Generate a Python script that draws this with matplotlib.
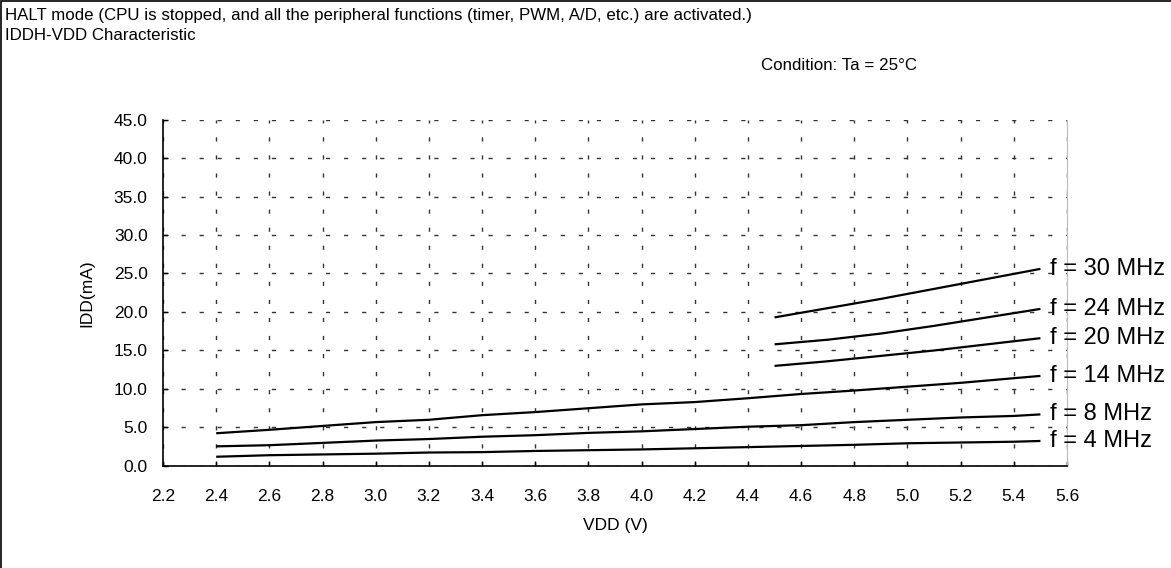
import matplotlib.pyplot as plt
from matplotlib.patches import Rectangle

plt.rcParams['font.family'] = ['Liberation Sans', 'DejaVu Sans']

vdd_low = [2.4, 2.6, 2.8, 3.0, 3.2, 3.4, 3.6, 3.8, 4.0, 4.2, 4.4, 4.6, 4.8, 5.0, 5.2, 5.4, 5.5]
idd_4 = [1.2, 1.4, 1.5, 1.6, 1.75, 1.8, 1.95, 2.05, 2.15, 2.3, 2.45, 2.6, 2.75, 2.95, 3.05, 3.15, 3.25]
idd_8 = [2.55, 2.7, 3.0, 3.3, 3.5, 3.8, 4.0, 4.3, 4.5, 4.8, 5.1, 5.3, 5.7, 6.0, 6.3, 6.5, 6.7]
idd_14 = [4.25, 4.7, 5.2, 5.7, 6.0, 6.6, 7.0, 7.5, 8.0, 8.3, 8.8, 9.35, 9.8, 10.3, 10.8, 11.4, 11.7]

vdd_high = [4.5, 4.7, 4.9, 5.1, 5.3, 5.5]
idd_20 = [13.0, 13.6, 14.3, 15.0, 15.8, 16.6]
idd_24 = [15.8, 16.4, 17.2, 18.2, 19.3, 20.4]
idd_30 = [19.3, 20.5, 21.7, 23.0, 24.3, 25.6]

series = [
    (vdd_high, idd_30, "f = 30 MHz"),
    (vdd_high, idd_24, "f = 24 MHz"),
    (vdd_high, idd_20, "f = 20 MHz"),
    (vdd_low, idd_14, "f = 14 MHz"),
    (vdd_low, idd_8, "f = 8 MHz"),
    (vdd_low, idd_4, "f = 4 MHz"),
]

xticks = [2.2, 2.4, 2.6, 2.8, 3.0, 3.2, 3.4, 3.6, 3.8, 4.0, 4.2, 4.4, 4.6, 4.8, 5.0, 5.2, 5.4, 5.6]
yticks = [0, 5, 10, 15, 20, 25, 30, 35, 40, 45]

fig = plt.figure(figsize=(11.71, 5.68), dpi=100)
ax = fig.add_axes([0.1392, 0.1796, 0.7720, 0.6100])

for x, y, name in series:
    ax.plot(x, y, color="black", lw=1.6, solid_capstyle="butt")
    ax.text(5.535, y[-1], name, fontsize=17, va="center", ha="left", clip_on=False)

ax.set_xlim(2.2, 5.6)
ax.set_ylim(0, 45)
ax.set_xticks(xticks)
ax.set_xticklabels([f"{v:.1f}" for v in xticks])
ax.set_yticks(yticks)
ax.set_yticklabels([f"{v:.1f}" for v in yticks])
ax.tick_params(direction="in", length=3.5, width=1, labelsize=12.5, pad=11)
ax.tick_params(axis="x", pad=16.5)
ax.grid(True, color="#333333", lw=1, linestyle=(0, (3, 10)))
ax.spines["top"].set_visible(False)
ax.spines["right"].set_color("#bbbbbb")
ax.spines["left"].set_linewidth(1.2)
ax.spines["bottom"].set_linewidth(1.2)
ax.set_xlabel("VDD (V)", fontsize=12.5, labelpad=10)
ax.set_ylabel("IDD(mA)", fontsize=12.5, labelpad=14)

fig.text(0.004, 0.973, "HALT mode (CPU is stopped, and all the peripheral functions (timer, PWM, A/D, etc.) are activated.)",
         fontsize=12.2, va="center")
fig.text(0.004, 0.937, "IDDH-VDD Characteristic", fontsize=12.2, va="center")
fig.text(0.7165, 0.884, "Condition: Ta = 25°C", fontsize=12.2, va="center", ha="center")

fig.patches.append(Rectangle((0.001, -0.01), 1.1, 1.008, transform=fig.transFigure,
                             fill=False, edgecolor="black", lw=1.2))

fig.savefig("out.png", dpi=100)
